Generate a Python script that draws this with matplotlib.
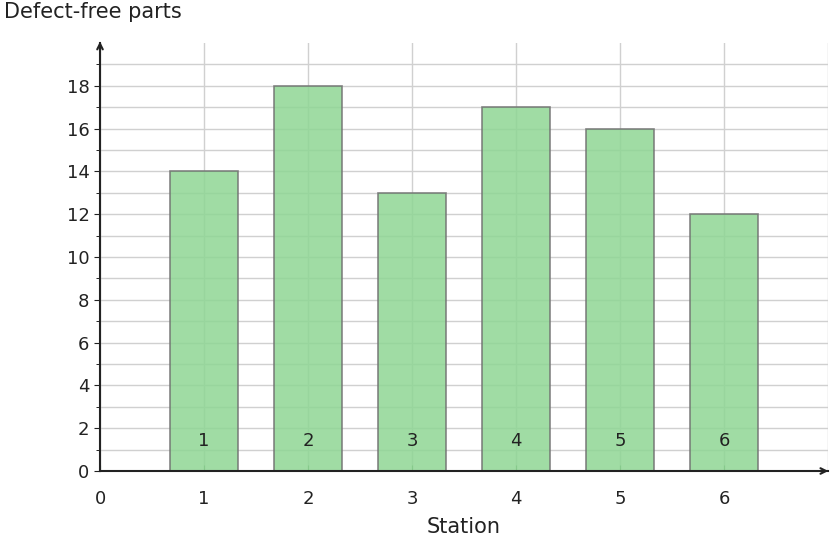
import matplotlib
matplotlib.use("Agg")
import matplotlib.pyplot as plt

stations = [1, 2, 3, 4, 5, 6]
parts = [14, 18, 13, 17, 16, 12]
labels = ["1", "2", "3", "4", "5", "6"]

fig = plt.figure(figsize=(8.33, 5.48), dpi=100)
ax = fig.add_axes([100/833, 77/548, 728/833, 428/548])
ax.set_xlim(0, 7)
ax.set_ylim(0, 20)
ax.set_yticks(range(0, 20, 2))
ax.set_yticks(range(0, 20), minor=True)
ax.set_xticks(range(0, 7))
ax.grid(True, which="both", axis="y", color="#d0d0d0", lw=1)
ax.grid(True, which="major", axis="x", color="#d0d0d0", lw=1)
ax.axvline(7, color="#d0d0d0", lw=1)
ax.set_axisbelow(True)
for s in ["top", "right"]:
    ax.spines[s].set_visible(False)
for s in ["left", "bottom"]:
    ax.spines[s].set_color("#222222")
    ax.spines[s].set_linewidth(1.5)
ax.bar(stations, parts, width=0.65, color="#8fd694", alpha=0.85, edgecolor="#707070", lw=1.2, zorder=2)
for x, l in zip(stations, labels):
    ax.text(x, 1.4, l, ha="center", va="center", fontsize=13, color="#222222", zorder=3)
ax.tick_params(axis="both", labelsize=13, colors="#222222", length=4)
ax.tick_params(axis="x", direction="in", pad=14, color="#5a8a5a")
ax.tick_params(axis="y", which="minor", length=3)
ax.annotate("", xy=(7.03, 0), xytext=(6.9, 0), xycoords="data",
            arrowprops=dict(arrowstyle="->", color="#222222", lw=1.5), annotation_clip=False)
ax.annotate("", xy=(0, 20.2), xytext=(0, 19.5), xycoords="data",
            arrowprops=dict(arrowstyle="->", color="#222222", lw=1.5), annotation_clip=False)
ax.set_xlabel("Station", fontsize=15, color="#222222", labelpad=6)
fig.text(4/833, 1 - 12/548, "Defect-free parts", fontsize=15, color="#222222", va="center", ha="left")
fig.savefig("out.png", dpi=100)
